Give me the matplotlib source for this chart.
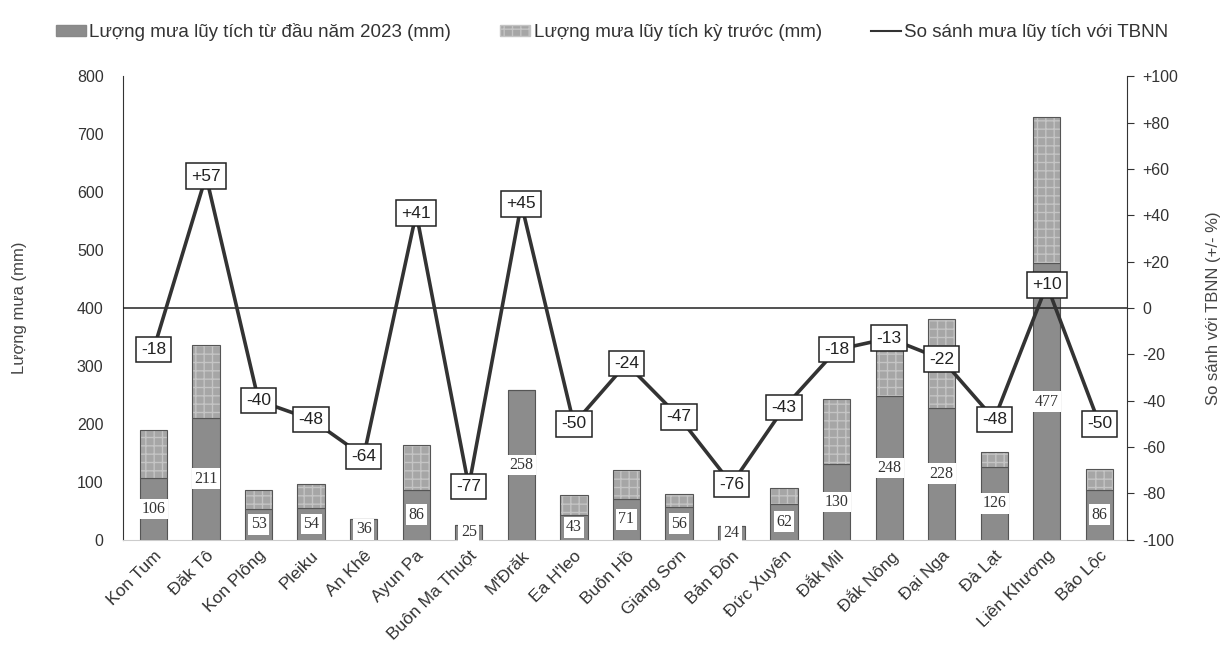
import numpy as np
import matplotlib
matplotlib.use("Agg")
import matplotlib.pyplot as plt
from matplotlib.patches import Patch
from matplotlib.lines import Line2D

plt.rcParams['font.family'] = ['Liberation Sans', 'DejaVu Sans']

stations = ["Kon Tum", "Đăk Tô", "Kon Plông", "Pleiku", "An Khê", "Ayun Pa",
            "Buôn Ma Thuột", "M'Đrăk", "Ea H'leo", "Buôn Hồ", "Giang Sơn",
            "Bản Đôn", "Đức Xuyên", "Đắk Mil", "Đắk Nông", "Đại Nga", "Đà Lạt",
            "Liên Khương", "Bảo Lộc"]
rain_2023 = [106, 211, 53, 54, 36, 86, 25, 258, 43, 71, 56, 24, 62, 130, 248, 228, 126, 477, 86]
rain_prev = [83, 126, 32, 42, 0, 77, 0, 0, 35, 50, 23, 0, 27, 113, 88, 153, 26, 253, 36]
pct_tbnn = [-18, 57, -40, -48, -64, 41, -77, 45, -50, -24, -47, -76, -43, -18, -13, -22, -48, 10, -50]

x = np.arange(len(stations))
w = 0.52

fig = plt.figure(figsize=(12.24, 6.59), dpi=100)
ax = fig.add_axes([0.1005, 0.181, 0.82, 0.703])

c_2023 = '#8c8c8c'
c_prev = '#a6a6a6'

ax.bar(x, rain_2023, w, color=c_2023, edgecolor='#555555', linewidth=0.8, zorder=2)
ax.bar(x, rain_prev, w, bottom=rain_2023, color=c_prev, edgecolor='#c4c4c4',
       hatch='++', linewidth=0, zorder=2)
ax.bar(x, rain_prev, w, bottom=rain_2023, fill=False, edgecolor='#555555',
       linewidth=0.8, zorder=3)

# nhan gia tri 2023 o giua cot
for xi, v in zip(x, rain_2023):
    ax.text(xi, v / 2, str(v), ha='center', va='center', fontsize=11.5,
            family=['Liberation Serif', 'DejaVu Serif'], color='#333333', zorder=4,
            bbox=dict(boxstyle='square,pad=0.15', fc='white', ec='none'))

ax.set_xlim(-0.58, 18.52)
ax.set_ylim(0, 800)
ax.set_yticks(range(0, 801, 100))
ax.tick_params(axis='y', length=0, pad=14, labelsize=11.5, labelcolor='#333333')
ax.set_xticks(x)
ax.set_xticklabels(stations, rotation=45, ha='right', rotation_mode='anchor',
                   fontsize=12.5, color='#333333')
ax.tick_params(axis='x', length=0, pad=6)
ax.spines['top'].set_visible(False)
ax.spines['right'].set_visible(False)
ax.spines['left'].set_color('#333333')
ax.spines['bottom'].set_color('#cccccc')
ax.set_ylabel("Lượng mưa (mm)", fontsize=12, color='#444444', labelpad=36)

ax2 = ax.twinx()
ax2.set_ylim(-100, 100)
ax2.set_yticks(range(-100, 101, 20))
ax2.set_yticklabels([f"{t:+d}" if t != 0 else "0" for t in range(-100, 101, 20)])
ax2.tick_params(axis='y', direction='out', length=5, pad=6, labelsize=11.5,
                labelcolor='#333333', color='#333333')
for s in ['top', 'left', 'bottom']:
    ax2.spines[s].set_visible(False)
ax2.spines['right'].set_color('#333333')
ax2.axhline(0, color='#222222', lw=1.1, zorder=1)
ax2.plot(x, pct_tbnn, color='#333333', lw=2.6, zorder=3)
for xi, p in zip(x, pct_tbnn):
    ax2.text(xi, p, f"{p:+d}", ha='center', va='center', fontsize=12.5,
             color='#222222', zorder=5,
             bbox=dict(boxstyle='square,pad=0.3', fc='white', ec='#222222', lw=1.1))
ax2.set_ylabel("So sánh với TBNN (+/- %)", fontsize=12, color='#444444', labelpad=20)

handles = [Patch(facecolor=c_2023, edgecolor='#888888'),
           Patch(facecolor=c_prev, edgecolor='#c4c4c4', hatch='++'),
           Line2D([0], [0], color='#333333', lw=1.5)]
labels = ["Lượng mưa lũy tích từ đầu năm 2023 (mm)",
          "Lượng mưa lũy tích kỳ trước (mm)",
          "So sánh mưa lũy tích với TBNN"]
fig.legend(handles, labels, loc='center', bbox_to_anchor=(0.5, 0.951), ncol=3,
           frameon=False, fontsize=13.5, handlelength=1.6, handleheight=0.55,
           handletextpad=0.2, columnspacing=2.6, labelcolor='#333333')

fig.savefig("out.png", dpi=100)
